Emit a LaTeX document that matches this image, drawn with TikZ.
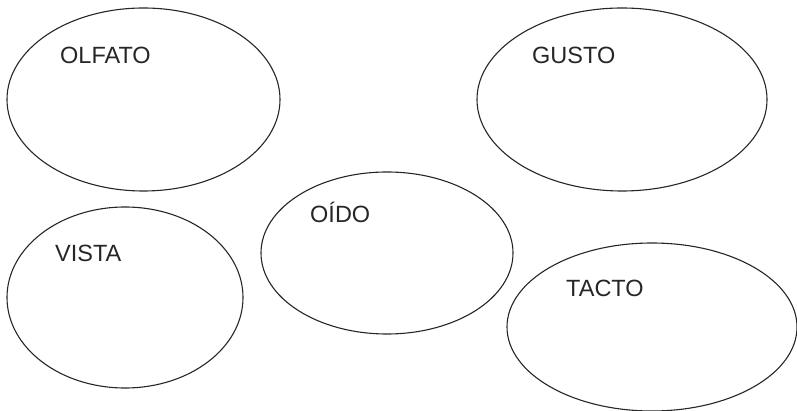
\documentclass[tikz,border=0pt]{standalone}
\usepackage{fontspec}
\setmainfont{Liberation Sans}
\usetikzlibrary{shapes}
\tikzset{sense/.style={draw=black!85, ellipse, line width=1.1pt, inner sep=0pt},
 senselabel/.style={anchor=base west, inner sep=0pt, font=\fontsize{23.5}{28}\selectfont, text=black!85},
 }

\begin{document}
\begin{tikzpicture}[x=1pt, y=-1pt]
        \useasboundingbox (0, 0) rectangle (797, 411);

        \node[sense, minimum width=273pt, minimum height=183pt] (olfato) at (143.5, 99.5) {};
        \node[senselabel] (olfatotext) at (60, 64) {OLFATO};

        \node[sense, minimum width=290pt, minimum height=183pt] (gusto) at (622, 99.5) {};
        \node[senselabel] (gustotext) at (532, 64) {GUSTO};

        \node[sense, minimum width=252pt, minimum height=162pt] (oido) at (387, 253) {};
        \node[senselabel] (oidotext) at (310, 223) {OÍDO};

        \node[sense, minimum width=236pt, minimum height=181pt] (vista) at (125, 297.5) {};
        \node[senselabel] (vistatext) at (55, 262) {VISTA};

        \node[sense, minimum width=290pt, minimum height=168pt] (tacto) at (652, 327) {};
        \node[senselabel] (tactotext) at (566, 297) {TACTO};
\end{tikzpicture}
\end{document}
